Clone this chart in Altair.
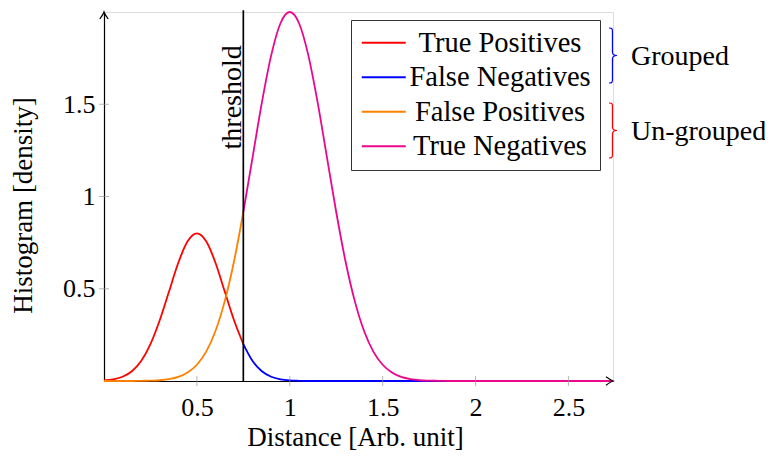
import altair as alt
import pandas as pd

# ---- data ----
series_names = ["True Positives", "False Negatives", "False Positives", "True Negatives"]
series_colors = ["#ff0000", "#0000ff", "#ff8000", "#eb078c"]

x_left = [0.0, 0.05, 0.1, 0.15, 0.2, 0.25, 0.3, 0.35, 0.4, 0.45, 0.5,
          0.55, 0.6, 0.65, 0.7, 0.75]
tp_y = [0.003, 0.009, 0.023, 0.053, 0.108, 0.200, 0.329, 0.485, 0.641, 0.757, 0.800,
        0.757, 0.641, 0.485, 0.329, 0.200]
fp_y = [0.0, 0.0, 0.0, 0.0, 0.001, 0.002, 0.004, 0.010, 0.022, 0.046, 0.088,
        0.159, 0.271, 0.433, 0.649, 0.916]

x_right = [0.75, 0.8, 0.85, 0.9, 0.95, 1.0, 1.05, 1.1, 1.15, 1.2, 1.25, 1.3, 1.35,
           1.4, 1.45, 1.5, 1.55, 1.6, 1.65, 1.7, 1.75, 1.8, 1.85, 1.9, 1.95, 2.74]
fn_y = [0.200, 0.108, 0.053, 0.023, 0.009, 0.003, 0.001, 0.0, 0.0, 0.0, 0.0, 0.0, 0.0,
        0.0, 0.0, 0.0, 0.0, 0.0, 0.0, 0.0, 0.0, 0.0, 0.0, 0.0, 0.0, 0.0]
tn_y = [0.916, 1.213, 1.510, 1.765, 1.939, 2.000, 1.939, 1.765, 1.510, 1.213, 0.916,
        0.649, 0.433, 0.271, 0.159, 0.088, 0.046, 0.022, 0.010, 0.004, 0.002, 0.001,
        0.0, 0.0, 0.0, 0.0]

threshold = 0.75
x_ticks = [0.5, 1, 1.5, 2, 2.5]
y_ticks = [0.5, 1, 1.5]
x_max = 2.74
y_max = 2.0

group_labels = ["Grouped", "Un-grouped"]
group_colors = ["#0000ff", "#ff0000"]

FONT = "Liberation Serif"

# ---- build tables ----
frames = [
    pd.DataFrame({"x": x_left, "y": tp_y, "series": series_names[0]}),
    pd.DataFrame({"x": x_right, "y": fn_y, "series": series_names[1]}),
    pd.DataFrame({"x": x_left, "y": fp_y, "series": series_names[2]}),
    pd.DataFrame({"x": x_right, "y": tn_y, "series": series_names[3]}),
]

x_scale = alt.Scale(domain=[0, x_max], nice=False, zero=False)
y_scale = alt.Scale(domain=[0, y_max], nice=False, zero=False)
color_scale = alt.Scale(domain=series_names, range=series_colors)

x_axis = alt.Axis(values=x_ticks, title="Distance [Arb. unit]", grid=False, ticks=False,
                  format="~g",
                  labelFont=FONT, labelFontSize=26, labelPadding=13, labelColor="black",
                  domainColor="black", domainWidth=1.2, labelFlush=False,
                  titleFont=FONT, titleFontSize=27, titleFontWeight="normal",
                  titleColor="black", titleY=43, titleX=251)
y_axis = alt.Axis(values=y_ticks, title="Histogram [density]", grid=False, ticks=False,
                  format="~g",
                  labelFont=FONT, labelFontSize=26, labelPadding=9, labelColor="black",
                  domainColor="black", domainWidth=1.2, labelFlush=False,
                  titleFont=FONT, titleFontSize=27, titleFontWeight="normal",
                  titleColor="black", titleX=-67, titleY=193)

LEGEND_PATH = "M-1.76,0H1.76"
legend = alt.Legend(orient="none", legendX=247, legendY=8, title=None,
                    symbolType=LEGEND_PATH, symbolSize=625, symbolStrokeWidth=1.8,
                    symbolOffset=10, labelFont=FONT, labelFontSize=28.5, labelColor="black",
                    labelAlign="center", labelOffset=102, labelLimit=400,
                    padding=8.5, rowPadding=5.5, strokeColor="#333333",
                    fillColor="white")


def X(field):
    return alt.X(field, type="quantitative", scale=x_scale, axis=x_axis)


def Y(field):
    return alt.Y(field, type="quantitative", scale=y_scale, axis=y_axis)


lines = []
for df in frames:
    lines.append(alt.Chart(df).mark_line(strokeWidth=1.8, interpolate="monotone").encode(
        x=X("x"), y=Y("y"),
        color=alt.Color("series:N", scale=color_scale, legend=legend)))

# threshold line + label
thr_df = pd.DataFrame({"x": [threshold], "y0": [0.0], "y1": [y_max + 0.01],
                       "ty": [1.82], "label": ["threshold"]})
thr_rule = alt.Chart(thr_df).mark_rule(color="black", strokeWidth=1.7).encode(
    x=X("x"), y=Y("y0"), y2="y1:Q")
thr_text = alt.Chart(thr_df).mark_text(angle=270, align="right", baseline="alphabetic",
                                      font=FONT, fontSize=28, color="black", dy=-2).encode(
    x=X("x"), y=Y("ty"), text="label:N")

# tick marks crossing the axes
xt_df = pd.DataFrame({"x": x_ticks, "y": [0.0] * len(x_ticks)})
xt = alt.Chart(xt_df).mark_tick(orient="vertical", size=10, thickness=1,
                                color="#999999").encode(x=X("x"), y=Y("y"))
yt_df = pd.DataFrame({"y": y_ticks, "x": [0.0] * len(y_ticks)})
yt = alt.Chart(yt_df).mark_tick(orient="horizontal", size=10, thickness=1,
                                color="#999999").encode(x=X("x"), y=Y("y"))

# axis arrows
ARROW = "M-1,-0.6Q-0.3,-0.1 0,0Q-0.3,0.1 -1,0.6"
arrow_df = pd.DataFrame({"x": [x_max, 0.0], "y": [0.0, y_max], "a": [0, 270]})
arrows = alt.Chart(arrow_df).mark_point(shape=ARROW, size=196, filled=False,
                                        color="black", strokeWidth=1.2, opacity=1).encode(
    x=X("x"), y=Y("y"), angle=alt.Angle("a:Q", scale=None))

# group braces and labels (annotation outside the plot, beside the legend)
BRACE = ("M-0.145,-1C-0.02,-1 -0.02,-0.96 -0.02,-0.85L-0.02,-0.12"
         "C-0.02,-0.03 0.05,0 0.145,0C0.05,0 -0.02,0.03 -0.02,0.12"
         "L-0.02,0.85C-0.02,0.96 -0.02,1 -0.145,1")
brace_pos = [(509, 43.5), (509, 118.5)]
text_pos = [(631, 53), (631, 128)]
annot = []
for i, lab in enumerate(group_labels):
    gdf = pd.DataFrame({"label": [lab]})
    annot.append(alt.Chart(gdf).mark_point(
        shape=BRACE, size=3025, filled=False, strokeWidth=1.2, opacity=1,
        color=group_colors[i]).encode(
        x=alt.value(brace_pos[i][0]), y=alt.value(brace_pos[i][1])))
    annot.append(alt.Chart(gdf).mark_text(
        align="left", baseline="alphabetic", font=FONT, fontSize=28,
        color="black").encode(
        x=alt.value(text_pos[i][0] - 104), y=alt.value(text_pos[i][1]), text="label:N"))

chart = alt.layer(*lines, thr_rule, thr_text, xt, yt, arrows, *annot).properties(
    width=509, height=369,
    padding={"left": 96, "top": 4, "right": 152, "bottom": 70},
    autosize=alt.AutoSizeParams(type="none"),
).configure_view(strokeWidth=0).configure(background="white")

chart.save("out.html", embed_options={"renderer": "svg", "actions": False})
